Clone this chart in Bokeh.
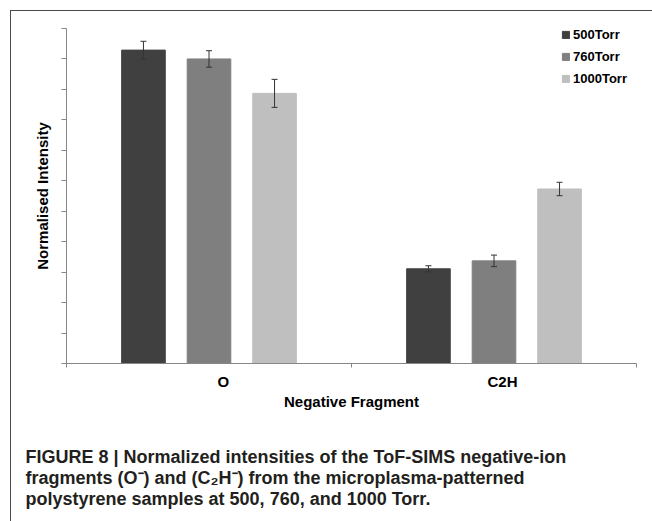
from bokeh.plotting import figure
from bokeh.models import (ColumnDataSource, Range1d, FixedTicker, Whisker, TeeHead,
                          Legend, LegendItem, Title, CustomJSTickFormatter)
from bokeh.embed import file_html
from bokeh.resources import INLINE

# ---------------- data ----------------
categories = ["O", "C2H"]
series = ["500Torr", "760Torr", "1000Torr"]
values_500 = [1.029, 0.311]
values_760 = [1.000, 0.337]
values_1000 = [0.887, 0.573]
err_500 = [0.029, 0.010]
err_760 = [0.027, 0.019]
err_1000 = [0.046, 0.022]
y_ticks = [round(0.1 * i, 1) for i in range(12)]
caption_lines = [
    "FIGURE 8 | Normalized intensities of the ToF-SIMS negative-ion",
    "fragments (O\u207b) and (C\u2082H\u207b) from the microplasma-patterned",
    "polystyrene samples at 500, 760, and 1000 Torr.",
]

# ---------------- styles ----------------
colors = ["#404040", "#7f7f7f", "#bfbfbf"]
offsets = [-0.23, 0.0, 0.23]
bar_width = 0.153
label_shift = [0.05, 0.03]
FONT = "Liberation Sans"
W, H = 652, 521
LINE = "#4a4a4a"

p = figure(width=W, height=H, x_range=Range1d(0, len(categories)), y_range=Range1d(0, 1.1),
           output_backend="svg", toolbar_location=None,
           min_border_left=66, min_border_right=16, min_border_top=28, min_border_bottom=158)
p.grid.visible = False
p.outline_line_color = None
p.background_fill_color = "white"
p.border_fill_color = None
p.styles = {
    "background": (f"linear-gradient({LINE},{LINE}) 10px 10px / 1px 100% no-repeat, "
                   f"linear-gradient({LINE},{LINE}) 10px 10px / 100% 1px no-repeat, #ffffff")
}

axis_color = "#868686"

# y axis
p.yaxis.ticker = FixedTicker(ticks=y_ticks)
p.yaxis.formatter = CustomJSTickFormatter(code="return ''")
p.yaxis.major_label_standoff = 0
p.yaxis.major_tick_in = 0
p.yaxis.major_tick_out = 5
p.yaxis.minor_tick_line_color = None
p.yaxis.axis_line_color = axis_color
p.yaxis.major_tick_line_color = axis_color
p.yaxis.axis_label = "Normalised Intensity"
p.yaxis.axis_label_text_font = FONT
p.yaxis.axis_label_text_font_style = "bold"
p.yaxis.axis_label_text_font_size = "15px"
p.yaxis.axis_label_text_color = "black"
p.yaxis.axis_label_standoff = 11

# x axis: labels near category centres, tick marks on category boundaries
p.xaxis.ticker = FixedTicker(
    ticks=[i + 0.5 + label_shift[i] for i in range(len(categories))],
    minor_ticks=list(range(len(categories) + 1)))
p.xaxis.formatter = CustomJSTickFormatter(args=dict(cats=categories),
                                          code="return cats[index] || ''")
p.xaxis.major_tick_in = 0
p.xaxis.major_tick_out = 0
p.xaxis.minor_tick_in = 0
p.xaxis.minor_tick_out = 4
p.xaxis.minor_tick_line_color = axis_color
p.xaxis.major_tick_line_color = None
p.xaxis.axis_line_color = axis_color
p.xaxis.major_label_standoff = 5
p.xaxis.major_label_text_font = FONT
p.xaxis.major_label_text_font_style = "bold"
p.xaxis.major_label_text_font_size = "15px"
p.xaxis.major_label_text_color = "black"
p.xaxis.axis_label = "Negative Fragment"
p.xaxis.axis_label_text_font = FONT
p.xaxis.axis_label_text_font_style = "bold"
p.xaxis.axis_label_text_font_size = "15px"
p.xaxis.axis_label_text_color = "black"
p.xaxis.axis_label_standoff = 0

all_vals = [values_500, values_760, values_1000]
all_errs = [err_500, err_760, err_1000]
items = []
for j, name in enumerate(series):
    vals = all_vals[j]
    errs = all_errs[j]
    src = ColumnDataSource(dict(
        x=[i + 0.5 + offsets[j] for i in range(len(categories))],
        top=vals,
        upper=[v + e for v, e in zip(vals, errs)],
        lower=[v - e for v, e in zip(vals, errs)],
    ))
    r = p.vbar(x="x", top="top", bottom=0, width=bar_width, source=src,
               fill_color=colors[j], line_color=colors[j])
    w = Whisker(base="x", upper="upper", lower="lower", source=src,
                line_color="#333333", line_width=1, level="annotation",
                upper_head=TeeHead(size=6, line_color="#333333", line_width=1),
                lower_head=TeeHead(size=6, line_color="#333333", line_width=1))
    p.add_layout(w)
    items.append(LegendItem(label=name, renderers=[r]))

legend = Legend(items=items, location=(495, 277), orientation="vertical",
                glyph_width=9, glyph_height=9, label_height=9, label_standoff=3,
                spacing=7, padding=4, margin=0,
                border_line_color=None, background_fill_alpha=0,
                label_text_font=FONT, label_text_font_style="bold",
                label_text_font_size="13px", label_text_color="black")
p.add_layout(legend)

# caption (one multi-line title below the x axis; leading blank line = gap)
p.add_layout(Title(text="\n" + "\n".join(caption_lines), align="left", offset=-41,
                   standoff=22, text_line_height=1.07,
                   text_font=FONT, text_font_style="bold",
                   text_font_size="18px", text_color="#231f20"), "below")

open("out.html", "w").write(file_html(p, INLINE))
